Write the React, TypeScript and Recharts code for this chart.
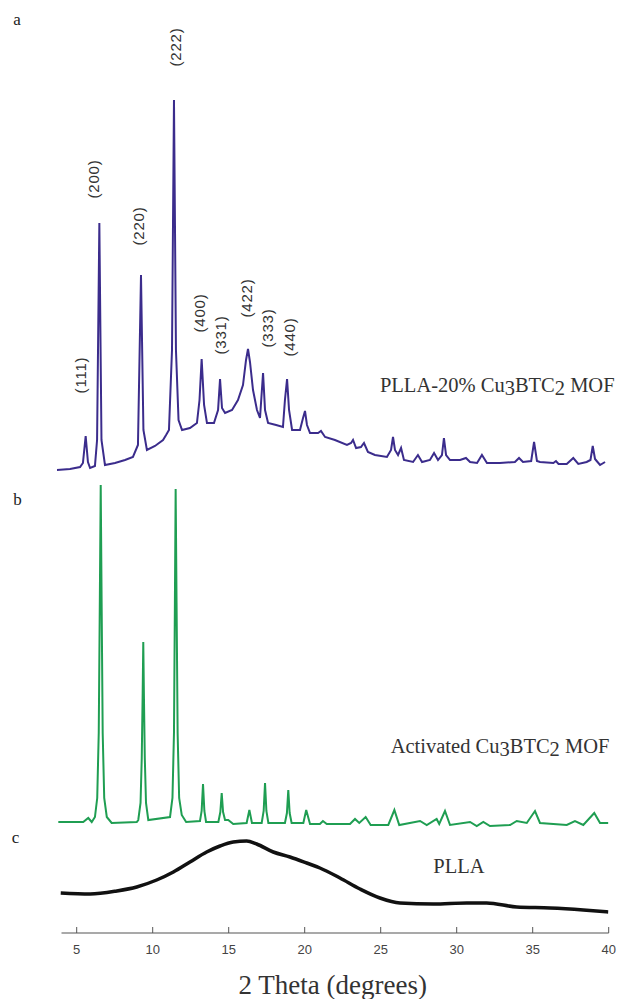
import React from 'react';
import { LineChart, Line, XAxis, YAxis, ReferenceLine, ReferenceDot } from 'recharts';

// ---- Data (2θ in degrees, intensity in a.u. with stacking offset) ----
const purpleX = [3.7, 4.56, 5.22, 5.41, 5.59, 5.74, 5.88, 6.2, 6.34, 6.49, 6.63, 6.86, 7.52, 8.18, 8.7, 9.03, 9.23, 9.39, 9.62, 10.15, 10.68, 10.88, 11.07, 11.27, 11.4, 11.53, 11.7, 11.93, 12.45, 12.91, 13.08, 13.22, 13.38, 13.57, 14.03, 14.3, 14.43, 14.56, 14.76, 15.22, 15.61, 15.94, 16.14, 16.27, 16.4, 16.6, 16.86, 17.06, 17.26, 17.39, 17.59, 18.12, 18.57, 18.7, 18.84, 18.97, 19.17, 19.69, 19.89, 20.02, 20.15, 20.35, 20.88, 21.07, 21.34, 21.99, 22.78, 23.05, 23.18, 23.38, 23.7, 23.9, 24.16, 24.62, 25.41, 25.68, 25.81, 25.94, 26.14, 26.34, 26.53, 27.13, 27.45, 27.72, 28.24, 28.51, 28.77, 29.03, 29.16, 29.3, 29.56, 30.22, 30.61, 30.88, 31.34, 31.66, 31.99, 32.84, 33.83, 34.1, 34.36, 34.9, 35.09, 35.28, 35.48, 36.36, 36.53, 36.7, 37.24, 37.67, 38.0, 38.55, 38.8, 38.95, 39.1, 39.21, 39.43, 39.76];
const purpleY = [463, 464, 466, 470, 497, 471, 465, 467, 493, 710, 493, 468, 470, 473, 476, 488, 658, 503, 483, 487, 493, 498, 503, 583, 833, 583, 513, 503, 505, 510, 533, 574, 528, 510, 510, 523, 554, 525, 520, 523, 533, 548, 573, 584, 571, 543, 523, 515, 560, 523, 510, 508, 506, 533, 554, 523, 503, 503, 515, 522, 508, 500, 500, 502, 496, 493, 488, 490, 493, 485, 486, 490, 481, 478, 476, 483, 496, 483, 478, 485, 473, 471, 478, 471, 473, 480, 473, 478, 495, 478, 473, 473, 475, 471, 470, 478, 470, 470, 471, 475, 471, 472, 491, 472, 471, 470, 472, 469, 469, 475, 469, 471, 473, 487, 474, 472, 468, 471];

const greenX = [3.79, 5.43, 5.76, 5.99, 6.2, 6.35, 6.45, 6.52, 6.58, 6.64, 6.71, 6.81, 6.98, 7.3, 8.95, 9.05, 9.2, 9.28, 9.34, 9.38, 9.42, 9.48, 9.56, 9.71, 11.14, 11.3, 11.4, 11.46, 11.51, 11.57, 11.64, 11.74, 11.91, 12.2, 13.11, 13.22, 13.31, 13.4, 13.51, 14.32, 14.45, 14.54, 14.63, 14.76, 14.97, 15.3, 16.18, 16.36, 16.53, 17.17, 17.3, 17.39, 17.48, 17.61, 18.7, 18.83, 18.92, 19.01, 19.14, 19.91, 20.1, 20.35, 21.0, 21.2, 21.45, 22.98, 23.31, 23.59, 24.01, 24.34, 25.5, 25.9, 26.22, 27.59, 28.03, 28.68, 28.85, 29.23, 29.56, 30.88, 31.32, 31.75, 32.19, 33.51, 33.95, 34.61, 35.15, 35.48, 37.24, 37.78, 38.33, 39.05, 39.43, 39.97];
const greenY = [111, 111, 115, 111, 116, 135, 200, 330, 448, 330, 200, 135, 116, 110, 111, 113, 130, 175, 240, 291, 240, 175, 130, 113, 116, 135, 200, 330, 444, 330, 200, 135, 118, 111, 112, 122, 149, 122, 111, 111, 121, 140, 121, 113, 113, 109, 110, 123, 110, 110, 122, 150, 122, 110, 110, 120, 143, 120, 110, 110, 123, 109, 109, 112, 109, 109, 114, 110, 116, 108, 108, 123, 108, 112, 108, 114, 109, 122, 108, 111, 107, 111, 107, 108, 112, 110, 122, 110, 108, 112, 108, 120, 110, 110];

const blackX = [3.95, 5.88, 7.63, 8.95, 10.26, 11.36, 12.45, 13.55, 14.43, 15.3, 16.18, 16.84, 17.93, 19.03, 20.13, 21.0, 22.32, 23.64, 24.95, 26.27, 28.46, 30.66, 31.97, 33.95, 36.14, 38.33, 39.97];
const blackY = [40, 39, 42, 46, 53, 61, 71, 81, 87, 91, 92, 89, 81, 76, 70, 65, 55, 44, 35, 30, 29, 30, 30, 26, 25, 23, 21];

const xTicks = [5, 10, 15, 20, 25, 30, 35, 40];

const hklLabels = ['(111)', '(200)', '(220)', '(222)', '(400)', '(331)', '(422)', '(333)', '(440)'];
const hklX = [5.28, 6.09, 9.05, 11.47, 13.05, 14.43, 16.18, 17.57, 19.03];
const hklY = [558, 754, 707, 886, 620, 598, 635, 605, 596];

const seriesNames = ['PLLA-20% Cu3BTC2 MOF', 'Activated Cu3BTC2 MOF', 'PLLA'];
const seriesNameX = [24.95, 25.66, 28.46];
const seriesNameY = [541, 180, 60];

const panelLetters = ['a', 'b', 'c'];

const toRows = (xs: number[], ys: number[]) => xs.map((x, i) => ({ x, v: ys[i] }));
const purpleData = toRows(purpleX, purpleY);
const greenData = toRows(greenX, greenY);
const blackData = toRows(blackX, blackY);

const SERIF = '"Liberation Serif", "Times New Roman", serif';
const SANS = '"Liberation Sans", Arial, sans-serif';

const Tick = (props: any) => {
  const { x, y, payload } = props;
  return (
    <g>
      <line x1={x} x2={x} y1={y - 6} y2={y} stroke="#555" strokeWidth={1} />
      <text x={x} y={y + 21} textAnchor="middle" fontFamily={SANS} fontSize={13} fill="#444">
        {payload.value}
      </text>
    </g>
  );
};

const centerOf = (vb: any) => ({ cx: vb.x + (vb.width || 0) / 2, cy: vb.y + (vb.height || 0) / 2 });

const HklLabel = (text: string) => (props: any) => {
  const { cx, cy } = centerOf(props.viewBox);
  return (
    <text
      x={cx}
      y={cy}
      transform={`rotate(-90 ${cx} ${cy})`}
      textAnchor="middle"
      dominantBaseline="central"
      fontFamily={SANS}
      fontSize={15}
      letterSpacing={0.8}
      fill="#333"
    >
      {text}
    </text>
  );
};

const renderFormula = (name: string) => {
  const idx = name.indexOf('Cu3BTC2');
  if (idx < 0) return name;
  const pre = name.slice(0, idx);
  const post = name.slice(idx + 'Cu3BTC2'.length);
  return [
    <tspan key="a">{pre + 'Cu'}</tspan>,
    <tspan key="b" dy={3}>3</tspan>,
    <tspan key="c" dy={-3}>BTC</tspan>,
    <tspan key="d" dy={3}>2</tspan>,
    <tspan key="e" dy={-3}>{post}</tspan>,
  ];
};

const NameLabel = (text: string) => (props: any) => {
  const { cx, cy } = centerOf(props.viewBox);
  return (
    <text x={cx} y={cy} textAnchor="start" fontFamily={SERIF} fontSize={20.5} fill="#333">
      {renderFormula(text)}
    </text>
  );
};

const TitleLabel = (props: any) => {
  const vb = props.viewBox || { x: 0, y: 933, width: 622 };
  const cx = vb.x + vb.width / 2;
  return (
    <text x={cx} y={vb.y + 61} textAnchor="middle" fontFamily={SERIF} fontSize={27} fill="#333">
      2 Theta (degrees)
    </text>
  );
};

export default function App() {
  return (
    <div style={{ position: 'absolute', left: 0, top: 0, width: 622, height: 999, background: '#fff' }}>
      <LineChart
        width={622}
        height={999}
        margin={{ top: 0, right: 13.3, left: 56.94, bottom: 0 }}
      >
        <XAxis
          type="number"
          dataKey="x"
          domain={[3.7, 40]}
          ticks={xTicks}
          interval={0}
          allowDataOverflow
          axisLine={false}
          tickLine={false}
          tickSize={0}
          tickMargin={0}
          height={66}
          tick={<Tick />}
          label={{ value: '2 Theta (degrees)', content: <TitleLabel /> }}
        />
        <YAxis type="number" domain={[0, 933]} hide allowDataOverflow />
        <ReferenceLine
          segment={[{ x: 4, y: 0 }, { x: 40, y: 0 }]}
          stroke="#555"
          strokeWidth={1.2}
        />
        <Line data={purpleData} dataKey="v" type="linear" stroke="#3b2c8c" strokeWidth={2} dot={false} isAnimationActive={false} />
        <Line data={greenData} dataKey="v" type="linear" stroke="#1f9e52" strokeWidth={2} dot={false} isAnimationActive={false} />
        <Line data={blackData} dataKey="v" type="monotone" stroke="#111" strokeWidth={3.5} dot={false} isAnimationActive={false} />
        {hklLabels.map((t, i) => (
          <ReferenceDot key={t} x={hklX[i]} y={hklY[i]} r={1} fill="none" stroke="none" label={{ content: HklLabel(t) }} />
        ))}
        {seriesNames.map((t, i) => (
          <ReferenceDot key={t} x={seriesNameX[i]} y={seriesNameY[i]} r={1} fill="none" stroke="none" label={{ content: NameLabel(t) }} />
        ))}
      </LineChart>
      <svg width={622} height={999} style={{ position: 'absolute', left: 0, top: 0, pointerEvents: 'none' }}>
        <text x={13.3} y={25} fontFamily={SERIF} fontSize={17} fill="#222">{panelLetters[0]}</text>
        <text x={13.3} y={505} fontFamily={SERIF} fontSize={17} fill="#222">{panelLetters[1]}</text>
        <text x={11.7} y={843} fontFamily={SERIF} fontSize={17} fill="#222">{panelLetters[2]}</text>
      </svg>
    </div>
  );
}
